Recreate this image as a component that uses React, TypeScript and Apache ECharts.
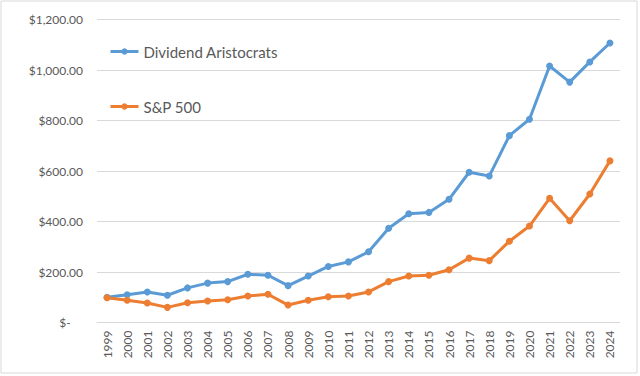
import React, { useEffect, useRef } from "react";
import * as echarts from "echarts";

const years = ["1999","2000","2001","2002","2003","2004","2005","2006","2007","2008","2009","2010","2011","2012","2013","2014","2015","2016","2017","2018","2019","2020","2021","2022","2023","2024"];
const aristocrats = [100,110,121,108,137,156,162,191,187,146,184,222,240,280,373,431,436,488,595,580,740,805,1016,952,1032,1107];
const sp500 = [98,88,77,60,78,85,90,105,112,69,88,102,105,121,162,184,187,209,255,245,322,382,492,403,509,640];

const fmt = (v: number) => {
  if (v === 0) return "$-    ";
  return "$" + v.toLocaleString("en-US", { minimumFractionDigits: 2, maximumFractionDigits: 2 });
};

export default function App() {
  const ref = useRef<HTMLDivElement>(null);
  useEffect(() => {
    const chart = echarts.init(ref.current!, null, { renderer: "svg" });
    const font = "Lato, 'Liberation Sans', sans-serif";
    chart.setOption({
      animation: false,
      backgroundColor: "#ffffff",
      graphic: [
        { type: "rect", shape: { x: 1, y: 1, width: 636, height: 372 }, style: { fill: "none", stroke: "#d9d9d9", lineWidth: 1 }, silent: true, z: -1 },
      ],
      grid: { left: 97, right: 20, top: 19.5, bottom: 53.5 },
      legend: {
        orient: "vertical",
        left: 109,
        top: 44,
        padding: 0,
        itemWidth: 28,
        itemHeight: 8,
        itemGap: 40,
        itemTextGap: 6,
        lineStyle: { width: 3 },
        textStyle: { color: "#595959", fontSize: 15, fontFamily: font },
        data: ["Dividend Aristocrats", "S&P 500"],
      },
      xAxis: {
        type: "category",
        data: years,
        boundaryGap: true,
        axisLine: { lineStyle: { color: "#d9d9d9", width: 1 } },
        axisTick: { show: false },
        axisLabel: { rotate: 90, color: "#595959", fontSize: 12, fontFamily: font, margin: 8, interval: 0 },
      },
      yAxis: {
        type: "value",
        min: 0,
        max: 1200,
        interval: 200,
        axisLine: { show: false },
        axisTick: { show: false },
        splitLine: { lineStyle: { color: "#d9d9d9", width: 1 } },
        axisLabel: { color: "#595959", fontSize: 12, fontFamily: font, margin: 14, formatter: fmt },
      },
      series: [
        {
          name: "Dividend Aristocrats",
          type: "line",
          data: aristocrats,
          symbol: "circle",
          symbolSize: 7,
          lineStyle: { color: "#5b9bd5", width: 3 },
          itemStyle: { color: "#5b9bd5" },
        },
        {
          name: "S&P 500",
          type: "line",
          data: sp500,
          symbol: "circle",
          symbolSize: 7,
          lineStyle: { color: "#ed7d31", width: 3 },
          itemStyle: { color: "#ed7d31" },
        },
      ],
    });
    return () => chart.dispose();
  }, []);
  return <div ref={ref} style={{ width: 640, height: 376, position: "fixed", left: 0, top: 0 }} />;
}
